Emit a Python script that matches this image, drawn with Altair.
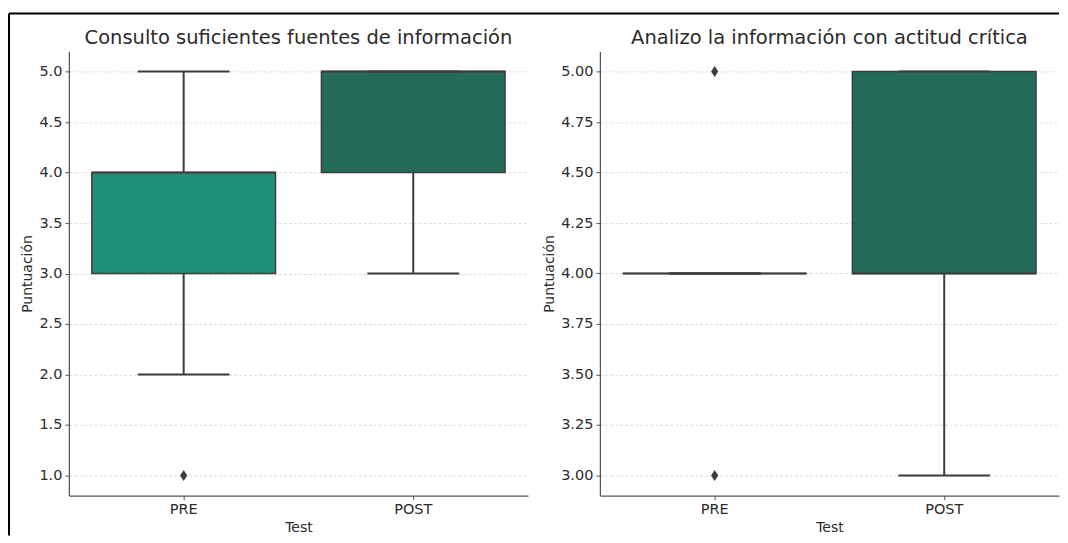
import altair as alt
import pandas as pd

tests = ["PRE", "POST"]
box_colors = ["#21907a", "#246b5a"]

# Panel 1
p1_title = "Consulto suficientes fuentes de información"
p1_low = [2, 3]
p1_q1 = [3, 4]
p1_median = [4, 5]
p1_q3 = [4, 5]
p1_high = [5, 5]
p1_out_test = ["PRE"]
p1_out_val = [1]
p1_ticks = [1.0, 1.5, 2.0, 2.5, 3.0, 3.5, 4.0, 4.5, 5.0]

# Panel 2
p2_title = "Analizo la información con actitud crítica"
p2_low = [4, 3]
p2_q1 = [4, 4]
p2_median = [4, 4]
p2_q3 = [4, 5]
p2_high = [4, 5]
p2_out_test = ["PRE", "PRE"]
p2_out_val = [3, 5]
p2_ticks = [3.0, 3.25, 3.5, 3.75, 4.0, 4.25, 4.5, 4.75, 5.0]

LINE = "#3d3d3d"
TEXT = "#2b2b2b"
FONT = "DejaVu Sans"
DIAMOND = "M0,-1L0.65,0L0,1L-0.65,0Z"
W = 460
H = 445


def panel(title, low, q1, med, q3, high, out_t, out_v, domain, ticks, fmt, frame=False):
    df = pd.DataFrame({"test": tests, "low": low, "q1": q1, "median": med,
                       "q3": q3, "high": high, "fill": box_colors})
    odf = pd.DataFrame({"test": out_t, "value": out_v})
    xax = alt.Axis(labelAngle=0, grid=False, title="Test")
    x = alt.X("test:N", sort=tests, scale=alt.Scale(paddingInner=0, paddingOuter=0), axis=xax)
    ysc = alt.Scale(domain=domain, nice=False, zero=False)
    yax = alt.Axis(values=ticks, format=fmt, title="Puntuación", grid=True)

    def Y(f):
        return alt.Y(f, scale=ysc, axis=yax)

    base = alt.Chart(df)
    w_lo = base.mark_rule(color=LINE, strokeWidth=2).encode(x=x, y=Y("low:Q"), y2="q1:Q")
    w_hi = base.mark_rule(color=LINE, strokeWidth=2).encode(x=x, y=Y("q3:Q"), y2="high:Q")
    box = base.mark_bar(width=alt.RelativeBandSize(0.8), stroke=LINE, strokeWidth=1.5).encode(
        x=x, y=Y("q1:Q"), y2="q3:Q", color=alt.Color("fill:N", scale=None))
    cap_lo = base.mark_tick(size=92, thickness=2, color=LINE, opacity=1).encode(x=x, y=Y("low:Q"))
    cap_hi = base.mark_tick(size=92, thickness=2, color=LINE, opacity=1).encode(x=x, y=Y("high:Q"))
    medl = base.mark_tick(size=184, thickness=2, color=LINE, opacity=1).encode(x=x, y=Y("median:Q"))
    outl = alt.Chart(odf).mark_point(shape=DIAMOND, size=121, filled=True, color=LINE,
                                     opacity=1).encode(x=x, y=Y("value:Q"))
    one = pd.DataFrame({"a": [0]})
    ttl = alt.Chart(one).mark_text(font=FONT, fontSize=19.5, color=TEXT, align="center",
                                   baseline="alphabetic").encode(
        x=alt.value(W / 2), y=alt.value(-7), text=alt.value(title))
    layers = [box, w_lo, w_hi, cap_lo, cap_hi, medl, outl, ttl]
    if frame:
        top = alt.Chart(one).mark_rule(color="black", strokeWidth=2).encode(
            x=alt.value(-60), x2=alt.value(992), y=alt.value(-38))
        left = alt.Chart(one).mark_rule(color="black", strokeWidth=2).encode(
            x=alt.value(-60), y=alt.value(-38), y2=alt.value(485))
        layers += [top, left]
    return alt.layer(*layers).properties(width=W, height=H)


c1 = panel(p1_title, p1_low, p1_q1, p1_median, p1_q3, p1_high, p1_out_test, p1_out_val,
           [0.8, 5.2], p1_ticks, ".1f", frame=True)
c2 = panel(p2_title, p2_low, p2_q1, p2_median, p2_q3, p2_high, p2_out_test, p2_out_val,
           [2.9, 5.1], p2_ticks, ".2f")

chart = alt.hconcat(c1, c2, spacing=72, bounds="flush").properties(
    padding={"left": 0, "top": 4, "right": 0, "bottom": 0}
).configure_view(stroke=None).configure_axis(
    domainColor="#555555", domainWidth=1.25, tickColor="#555555", tickSize=4,
    labelColor=TEXT, labelFont=FONT, labelFontSize=14.5, labelPadding=3,
    titleColor=TEXT, titleFont=FONT, titleFontSize=14, titleFontWeight="normal", titlePadding=4,
    gridColor="#d4d4d4", gridDash=[3, 2], gridWidth=0.8
)

chart.save("out.html", embed_options={"renderer": "svg", "actions": False})
